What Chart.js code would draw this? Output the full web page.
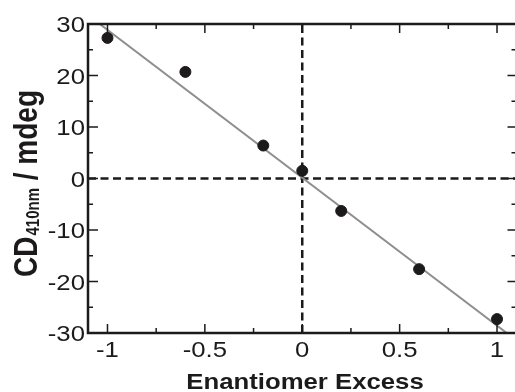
<!DOCTYPE html>
<html>
<head>
<meta charset="utf-8">
<script src="https://cdn.jsdelivr.net/npm/chart.js@4.4.1/dist/chart.umd.min.js"></script>
<style>
  html, body { margin: 0; padding: 0; overflow: hidden; background: #fff; }
  canvas { display: block; }
</style>
</head>
<body>
<canvas id="myChart" width="523" height="392"></canvas>
<script>
// measured data (enantiomer excess vs CD at 410 nm)
const eeValues = [-1, -0.6, -0.2, 0, 0.2, 0.6, 1];
const cdValues = [27.3, 20.7, 6.4, 1.5, -6.3, -17.6, -27.3];

// linear fit line, end points
const fitX = [-1.04, 1.05];
const fitY = [30, -30];

// tick labels
const xTickValues = [-1, -0.5, 0, 0.5, 1];
const xTickLabels = ['-1', '-0.5', '0', '0.5', '1'];
const xMinorValues = [-0.75, -0.25, 0.25, 0.75];
const yTickValues = [30, 20, 10, 0, -10, -20, -30];
const yTickLabels = ['30', '20', '10', '0', '-10', '-20', '-30'];
const yMinorValues = [25, 15, 5, -5, -15, -25];

const SX = 1.17;  // picture is stretched sideways
const INK = '#1c1a1b';
const FONT = '"Liberation Sans", Arial, sans-serif';

function drawText(ctx, text, x, y, font, align) {
    ctx.save();
    ctx.translate(x, y);
    ctx.scale(SX, 1);
    ctx.font = font;
    ctx.textAlign = align;
    ctx.textBaseline = 'alphabetic';
    ctx.fillText(text, 0, 0);
    ctx.restore();
}

// frame, inward ticks, tick labels and axis titles
const axesPlugin = {
    id: 'axesPlugin',
    afterDatasetsDraw(chart) {
        const ctx = chart.ctx;
        const a = chart.chartArea;
        const xs = chart.scales.x;
        const ys = chart.scales.y;
        ctx.save();
        ctx.strokeStyle = INK;
        ctx.fillStyle = INK;

        // ticks
        ctx.lineWidth = 1.5;
        ctx.beginPath();
        xTickValues.forEach(v => {
            const px = xs.getPixelForValue(v);
            ctx.moveTo(px, a.bottom); ctx.lineTo(px, a.bottom - 9);
            ctx.moveTo(px, a.top); ctx.lineTo(px, a.top + 9);
        });
        xMinorValues.forEach(v => {
            const px = xs.getPixelForValue(v);
            ctx.moveTo(px, a.bottom); ctx.lineTo(px, a.bottom - 5);
            ctx.moveTo(px, a.top); ctx.lineTo(px, a.top + 5);
        });
        yTickValues.forEach(v => {
            const py = ys.getPixelForValue(v);
            ctx.moveTo(a.left, py); ctx.lineTo(a.left + 10, py);
            ctx.moveTo(a.right, py); ctx.lineTo(a.right - 9, py);
        });
        yMinorValues.forEach(v => {
            const py = ys.getPixelForValue(v);
            ctx.moveTo(a.left, py); ctx.lineTo(a.left + 5, py);
            ctx.moveTo(a.right, py); ctx.lineTo(a.right - 5, py);
        });
        ctx.stroke();

        // frame
        ctx.lineWidth = 2.5;
        ctx.strokeRect(a.left, a.top, a.right - a.left, a.bottom - a.top);

        // tick labels
        const tickFont = '22px ' + FONT;
        xTickValues.forEach((v, i) => {
            drawText(ctx, xTickLabels[i], xs.getPixelForValue(v), a.bottom + 24, tickFont, 'center');
        });
        yTickValues.forEach((v, i) => {
            drawText(ctx, yTickLabels[i], a.left - 3, ys.getPixelForValue(v) + 8, tickFont, 'right');
        });

        // x title
        drawText(ctx, 'Enantiomer Excess', 305, 389, 'bold 22px ' + FONT, 'center');

        // y title with subscript
        ctx.translate(37, 277);
        ctx.scale(SX, 1);
        ctx.rotate(-Math.PI / 2);
        ctx.textAlign = 'left';
        ctx.textBaseline = 'alphabetic';
        ctx.font = 'bold 28px ' + FONT;
        ctx.fillText('CD', 0, 0);
        let w = ctx.measureText('CD').width;
        ctx.font = 'bold 15px ' + FONT;
        ctx.fillText('410nm', w + 1, 2);
        w += ctx.measureText('410nm').width + 1;
        ctx.font = 'bold 28px ' + FONT;
        ctx.fillText(' / mdeg', w, 0);
        ctx.restore();
    }
};

const ctx = document.getElementById('myChart').getContext('2d');
const chart = new Chart(ctx, {
    type: 'scatter',
    data: {
        datasets: [
            {
                label: 'CD',
                data: eeValues.map((x, i) => ({ x: x, y: cdValues[i] })),
                backgroundColor: INK,
                borderColor: INK,
                pointRadius: 5.5,
                pointHoverRadius: 5.5
            },
            {
                label: 'fit',
                type: 'line',
                data: fitX.map((x, i) => ({ x: x, y: fitY[i] })),
                borderColor: '#8e8e8e',
                borderWidth: 2,
                pointRadius: 0,
                fill: false
            },
            {
                label: 'zero x',
                type: 'line',
                data: [{ x: 0, y: -30 }, { x: 0, y: 30 }],
                borderColor: INK,
                borderWidth: 2.5,
                borderDash: [8, 4.5],
                pointRadius: 0,
                fill: false
            },
            {
                label: 'zero y',
                type: 'line',
                data: [{ x: -1.1, y: 0 }, { x: 1.1, y: 0 }],
                borderColor: INK,
                borderWidth: 2.5,
                borderDash: [8, 4.5],
                pointRadius: 0,
                fill: false
            }
        ]
    },
    options: {
        responsive: false,
        animation: false,
        layout: {
            padding: { left: 88, top: 24, right: 1.4, bottom: 59 }
        },
        plugins: {
            legend: { display: false },
            tooltip: { enabled: false }
        },
        scales: {
            x: { type: 'linear', min: -1.1, max: 1.1, display: false },
            y: { type: 'linear', min: -30, max: 30, display: false }
        }
    },
    plugins: [axesPlugin]
});
</script>
</body>
</html>
